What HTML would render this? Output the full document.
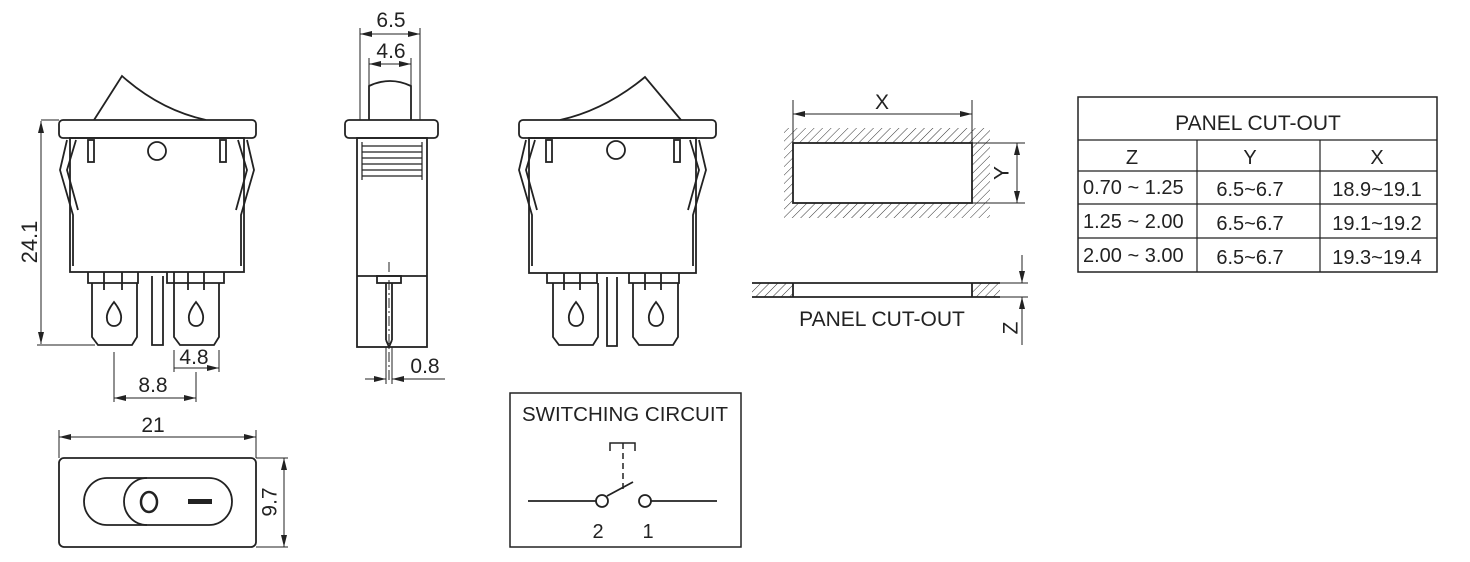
<!DOCTYPE html>
<html><head><meta charset="utf-8"><style>
html,body{margin:0;padding:0;background:#fff}
svg{display:block}
text{font-family:"Liberation Sans",sans-serif;fill:#222}
</style></head><body>
<svg width="1470" height="562" viewBox="0 0 1470 562" xmlns="http://www.w3.org/2000/svg">
<defs>
<pattern id="h" patternUnits="userSpaceOnUse" width="6" height="6" patternTransform="rotate(45)">
<line x1="0" y1="0" x2="0" y2="6" stroke="#333" stroke-width="1"/>
</pattern>
<marker id="a" viewBox="0 0 12 6" refX="12" refY="3" markerWidth="12" markerHeight="6" orient="auto-start-reverse" markerUnits="userSpaceOnUse">
<path d="M0,0 L12,3 L0,6 z" fill="#222"/>
</marker>
</defs>
<g fill="none" stroke="#222" stroke-width="1.8">
<!-- LEFT FRONT VIEW -->
<path d="M94,120 L122,76 Q160,110 206,120"/>
<rect x="59" y="120" width="197" height="18" rx="4" fill="#fff"/>
<rect x="70" y="138" width="174" height="134"/>
<circle cx="157" cy="151" r="9"/>
<rect x="88" y="140" width="6" height="22"/>
<rect x="220" y="140" width="6" height="22"/>
<path d="M67,140 L60,170 L73,215 L73,266 M76,140 L67,170 L78,210"/>
<path d="M247,140 L254,170 L241,215 L241,266 M238,140 L247,170 L236,210"/>
<path d="M88,272 V283 H138 V272 M104,272 V290 M122,272 V290 M92,283 V337 L98,345 H132 L137,337 V283"/>
<path d="M174,272 V283 H224 V272 M188,272 V290 M204,272 V290 M174,283 V337 L180,345 H214 L219,337 V283"/>
<path d="M152,276 V345 H163 V276 M167,272 L167,283 L174,283"/>
<path d="M114,302 C110,307 106,314 107,319 A7,7 0 0 0 121,319 C122,314 118,307 114,302z"/>
<path d="M196,302 C192,307 188,314 189,319 A7,7 0 0 0 203,319 C204,314 200,307 196,302z"/>
<!-- dims left -->
<g stroke-width="1">
<line x1="41" y1="120" x2="59" y2="120"/><line x1="37" y1="345" x2="95" y2="345"/>
<line x1="41" y1="121" x2="41" y2="344" marker-start="url(#a)" marker-end="url(#a)"/>
<line x1="174" y1="350" x2="174" y2="372"/><line x1="219" y1="350" x2="219" y2="372"/>
<line x1="174" y1="368" x2="219" y2="368" marker-end="url(#a)"/>
<line x1="219" y1="368" x2="196" y2="368"/>
<line x1="114" y1="352" x2="114" y2="402"/><line x1="196" y1="372" x2="196" y2="402"/>
<line x1="114" y1="398" x2="196" y2="398" marker-start="url(#a)" marker-end="url(#a)"/>
<line x1="59" y1="430" x2="59" y2="458"/><line x1="256" y1="430" x2="256" y2="458"/>
<line x1="59" y1="437" x2="256" y2="437" marker-start="url(#a)" marker-end="url(#a)"/>
<line x1="256" y1="458" x2="288" y2="458"/><line x1="256" y1="547" x2="288" y2="547"/>
<line x1="284" y1="458" x2="284" y2="547" marker-start="url(#a)" marker-end="url(#a)"/>
</g>
<!-- SIDE VIEW -->
<path d="M369,120 V86 Q390,76 411,86 V120"/>
<rect x="345" y="120" width="93" height="18" rx="4" fill="#fff"/>
<rect x="357" y="138" width="70" height="209"/>
<g stroke-width="1.2"><line x1="362" y1="146" x2="422" y2="146"/><line x1="362" y1="152" x2="422" y2="152"/><line x1="362" y1="158" x2="422" y2="158"/><line x1="362" y1="164" x2="422" y2="164"/><line x1="362" y1="170" x2="422" y2="170"/><line x1="362" y1="176" x2="422" y2="176"/><line x1="362" y1="142" x2="362" y2="180"/><line x1="422" y1="142" x2="422" y2="180"/></g>
<line x1="357" y1="276" x2="427" y2="276"/>
<rect x="377" y="276" width="24" height="7"/>
<path d="M386,283 V340 M392,283 V340 M386,340 L389,347 L392,340"/>
<g stroke-width="1">
<line x1="389" y1="262" x2="389" y2="380" stroke-dasharray="10,3,2,3"/>
<line x1="360" y1="28" x2="360" y2="120"/><line x1="420" y1="28" x2="420" y2="120"/>
<line x1="360" y1="34" x2="420" y2="34" marker-start="url(#a)" marker-end="url(#a)"/>
<line x1="369" y1="58" x2="369" y2="86"/><line x1="411" y1="58" x2="411" y2="86"/>
<line x1="369" y1="64" x2="411" y2="64" marker-start="url(#a)" marker-end="url(#a)"/>
<line x1="386" y1="347" x2="386" y2="384"/><line x1="392" y1="347" x2="392" y2="384"/>
<line x1="365" y1="379" x2="386" y2="379" marker-end="url(#a)"/>
<line x1="412" y1="379" x2="392" y2="379" marker-end="url(#a)"/>
<line x1="392" y1="379" x2="445" y2="379"/>
</g>
<!-- RIGHT FRONT VIEW -->
<path d="M681,120 L645,77 Q605,110 560,120"/>
<rect x="519" y="120" width="197" height="18" rx="4" fill="#fff"/>
<rect x="529" y="138" width="167" height="135"/>
<circle cx="616" cy="150" r="9"/>
<rect x="546" y="140" width="6" height="22"/>
<rect x="674" y="140" width="6" height="22"/>
<path d="M526,140 L519,170 L532,215 L532,266 M535,140 L526,170 L537,210"/>
<path d="M699,140 L706,170 L693,215 L693,266 M690,140 L699,170 L688,210"/>
<path d="M547,273 V283 H597 V273 M564,273 V290 M580,273 V290 M553,283 V337 L559,345 H593 L598,337 V283"/>
<path d="M629,273 V283 H679 V273 M645,273 V290 M661,273 V290 M633,283 V337 L639,345 H673 L678,337 V283"/>
<path d="M607,277 V346 H617 V277"/>
<path d="M576,302 C572,307 568,314 569,319 A7,7 0 0 0 583,319 C584,314 580,307 576,302z"/>
<path d="M656,302 C652,307 648,314 649,319 A7,7 0 0 0 663,319 C664,314 660,307 656,302z"/>
<!-- PANEL CUTOUT top -->
<rect x="784" y="128" width="206" height="90" fill="url(#h)" stroke="none"/>
<rect x="793" y="143" width="179" height="60" fill="#fff"/>
<g stroke-width="1">
<line x1="793" y1="100" x2="793" y2="143"/><line x1="972" y1="100" x2="972" y2="143"/>
<line x1="793" y1="114" x2="972" y2="114" marker-start="url(#a)" marker-end="url(#a)"/>
<line x1="972" y1="143" x2="1025" y2="143"/><line x1="972" y1="203" x2="1025" y2="203"/>
<line x1="1017" y1="143" x2="1017" y2="203" marker-start="url(#a)" marker-end="url(#a)"/>
</g>
<!-- PANEL side -->
<rect x="752" y="283" width="41" height="14" fill="url(#h)" stroke="none"/>
<rect x="972" y="283" width="28" height="14" fill="url(#h)" stroke="none"/>
<path d="M752,283 H1000 M752,297 H1000 M793,283 V297 M972,283 V297"/>
<g stroke-width="1">
<line x1="1000" y1="283" x2="1028" y2="283"/><line x1="1000" y1="297" x2="1028" y2="297"/>
<line x1="1022" y1="255" x2="1022" y2="283" marker-end="url(#a)"/>
<line x1="1022" y1="345" x2="1022" y2="297" marker-end="url(#a)"/>
</g>
<!-- TABLE -->
<rect x="1078" y="97" width="359" height="175" stroke-width="1.5"/>
<g stroke-width="1.2">
<line x1="1078" y1="140" x2="1437" y2="140"/><line x1="1078" y1="171" x2="1437" y2="171"/>
<line x1="1078" y1="204" x2="1437" y2="204"/><line x1="1078" y1="238" x2="1437" y2="238"/>
<line x1="1197" y1="140" x2="1197" y2="272"/><line x1="1320" y1="140" x2="1320" y2="272"/>
</g>
<!-- TOP VIEW -->
<rect x="59" y="458" width="197" height="89" rx="5"/>
<path d="M107,478 H209 A23,23.5 0 0 1 209,525 H107 A23,23.5 0 0 1 107,478z"/>
<path d="M147,478 A23,23.5 0 0 0 147,525"/>
<ellipse cx="149" cy="502" rx="8" ry="10" stroke-width="2.5"/>
<rect x="188" y="499" width="24" height="5" fill="#222" stroke="none"/>
<!-- SWITCHING CIRCUIT -->
<rect x="510" y="393" width="231" height="154" stroke-width="1.5"/>
<path d="M528,501 H596 M651,501 H717 M607,496 L633,482"/>
<circle cx="602" cy="501" r="6"/><circle cx="645" cy="501" r="6"/>
<path d="M610,451 V443 H635 V451" stroke-width="1.5"/>
<line x1="623" y1="443" x2="623" y2="490" stroke-width="1.5" stroke-dasharray="6,4"/>
</g>
<g font-size="21">
<text x="31" y="242" text-anchor="middle" transform="rotate(-90 31 242)" dominant-baseline="middle" font-size="22">24.1</text>
<text x="194" y="364" text-anchor="middle">4.8</text>
<text x="153" y="392" text-anchor="middle">8.8</text>
<text x="153" y="432" text-anchor="middle">21</text>
<text x="271" y="502" text-anchor="middle" transform="rotate(-90 271 502)" dominant-baseline="middle">9.7</text>
<text x="391" y="27" text-anchor="middle">6.5</text>
<text x="391" y="58" text-anchor="middle">4.6</text>
<text x="425" y="373" text-anchor="middle">0.8</text>
<text x="882" y="109" text-anchor="middle">X</text>
<text x="1003" y="173" text-anchor="middle" transform="rotate(-90 1003 173)" dominant-baseline="middle">Y</text>
<text x="882" y="326" text-anchor="middle">PANEL CUT-OUT</text>
<text x="1012" y="328" text-anchor="middle" transform="rotate(-90 1012 328)" dominant-baseline="middle">Z</text>
</g>
<g font-size="20">
<text x="1258" y="130" text-anchor="middle" font-size="21">PANEL CUT-OUT</text>
<text x="1132" y="164" text-anchor="middle">Z</text>
<text x="1250" y="164" text-anchor="middle">Y</text>
<text x="1377" y="164" text-anchor="middle">X</text>
<text x="1083" y="194">0.70 ~ 1.25</text>
<text x="1250" y="196" text-anchor="middle">6.5~6.7</text>
<text x="1377" y="196" text-anchor="middle">18.9~19.1</text>
<text x="1083" y="228">1.25 ~ 2.00</text>
<text x="1250" y="230" text-anchor="middle">6.5~6.7</text>
<text x="1377" y="230" text-anchor="middle">19.1~19.2</text>
<text x="1083" y="262">2.00 ~ 3.00</text>
<text x="1250" y="264" text-anchor="middle">6.5~6.7</text>
<text x="1377" y="264" text-anchor="middle">19.3~19.4</text>
<text x="625" y="421" text-anchor="middle" font-size="20.5">SWITCHING CIRCUIT</text>
<text x="598" y="538" text-anchor="middle">2</text>
<text x="648" y="538" text-anchor="middle">1</text>
</g>
</svg>
</body></html>
